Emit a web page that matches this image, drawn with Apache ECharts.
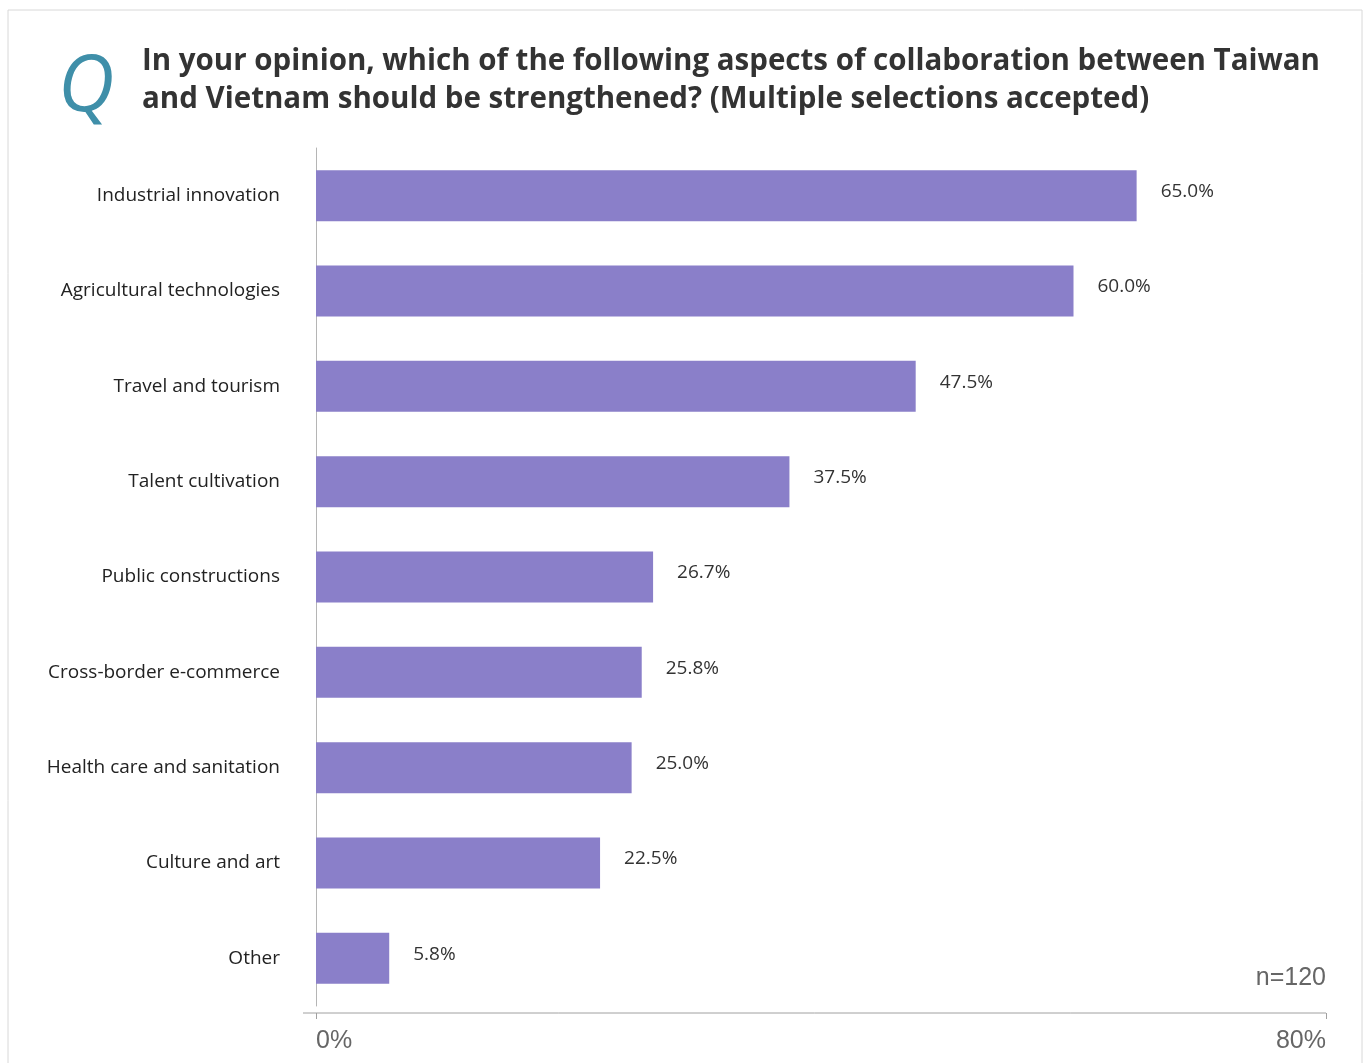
<!DOCTYPE html>
<html>
<head>
<meta charset="utf-8">
<script src="https://cdn.jsdelivr.net/npm/echarts@6/dist/echarts.min.js"></script>
<style>
  html, body { margin: 0; padding: 0; background: #ffffff; }
  #chart { width: 1371px; height: 1063px; }
</style>
</head>
<body>
<div id="chart"></div>
<script>
// Survey answers, top to bottom
const categories = [
  'Industrial innovation',
  'Agricultural technologies',
  'Travel and tourism',
  'Talent cultivation',
  'Public constructions',
  'Cross-border e-commerce',
  'Health care and sanitation',
  'Culture and art',
  'Other'
];
const shares = [65.0, 60.0, 47.5, 37.5, 26.7, 25.8, 25.0, 22.5, 5.8];
const axisTicks = [0, 80];

const chart = echarts.init(document.getElementById('chart'));

chart.setOption({
  animation: false,
  backgroundColor: '#ffffff',
  textStyle: { fontFamily: 'Open Sans, Noto Sans, sans-serif' },
  graphic: [
    {
      type: 'rect',
      shape: { x: 8, y: 10, width: 1354, height: 1060 },
      style: { fill: 'none', stroke: '#d8d8d8', lineWidth: 1 },
      silent: true
    },
    {
      // baseline rule under the bars, running a little past the value axis
      type: 'line',
      shape: { x1: 303, y1: 1013, x2: 1326, y2: 1013 },
      style: { stroke: '#a0a0a0', lineWidth: 1 },
      silent: true
    },
    {
      type: 'text',
      left: 58,
      top: 50,
      style: {
        text: 'Q',
        fill: '#3f8fa9',
        font: 'italic 78px "Open Sans", "Noto Sans", sans-serif'
      }
    },
    {
      type: 'text',
      left: 142,
      top: 43,
      style: {
        text: 'In your opinion, which of the following aspects of collaboration between Taiwan\nand Vietnam should be strengthened? (Multiple selections accepted)',
        fill: '#333333',
        font: 'bold 29.5px "Open Sans", "Noto Sans", sans-serif',
        lineHeight: 38
      }
    },
    {
      type: 'text',
      right: 45,
      top: 966,
      style: {
        text: 'n=120',
        fill: '#666666',
        font: '25px "Liberation Sans", Arial, sans-serif',
        align: 'right'
      }
    }
  ],
  grid: { left: 316, right: 45, top: 148, height: 858, containLabel: false },
  xAxis: {
    type: 'value',
    min: axisTicks[0],
    max: axisTicks[1],
    interval: 80,
    offset: 7,
    axisLine: { show: false },
    axisTick: { show: true, length: 6, lineStyle: { color: '#a0a0a0' } },
    splitLine: { show: false },
    axisLabel: {
      color: '#666666',
      fontSize: 25,
      fontFamily: 'Liberation Sans, Arial, sans-serif',
      margin: 16,
      alignMinLabel: 'left',
      alignMaxLabel: 'right',
      formatter: v => v + '%'
    }
  },
  yAxis: {
    type: 'category',
    data: categories,
    inverse: true,
    axisLine: { show: true, lineStyle: { color: '#b5b5b5', width: 1 } },
    axisTick: { show: false },
    axisLabel: {
      color: '#222222',
      fontSize: 19,
      margin: 36,
      offset: [0, -3]
    }
  },
  series: [
    {
      type: 'bar',
      data: shares,
      barWidth: 51,
      itemStyle: { color: '#8a7fc9' },
      label: {
        show: true,
        position: 'right',
        distance: 24,
        offset: [0, -4],
        color: '#333333',
        fontSize: 19,
        formatter: p => p.value.toFixed(1) + '%'
      }
    }
  ]
});
</script>
</body>
</html>
